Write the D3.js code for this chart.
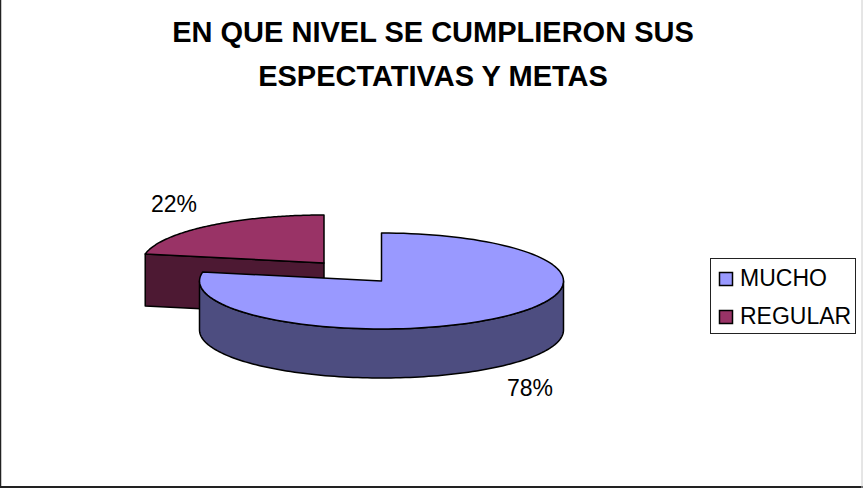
<!DOCTYPE html>
<html><head><meta charset="utf-8">
<script src="https://cdn.jsdelivr.net/npm/d3@7/dist/d3.min.js"></script>
<style>html,body{margin:0;padding:0;background:#fff}svg{display:block}text{font-family:"Liberation Sans",Arial,sans-serif;fill:#000}</style>
</head><body><div id="c"></div>
<script>
const titleLines = ["EN QUE NIVEL SE CUMPLIERON SUS", "ESPECTATIVAS Y METAS"];
const categories = ["MUCHO", "REGULAR"];
const values = [78, 22];
const topColors = ["#9999FF", "#993366"];
const sideColors = ["#4D4D80", "#4D1933"];

const W = 863, H = 488;
const svg = d3.select("#c").append("svg").attr("width", W).attr("height", H);
svg.append("line").attr("x1", 0.5).attr("x2", 0.5).attr("y1", 0).attr("y2", H).attr("stroke", "#222").attr("stroke-width", 1.5);
svg.append("line").attr("x1", 0).attr("x2", W).attr("y1", 487).attr("y2", 487).attr("stroke", "#222").attr("stroke-width", 2);
svg.append("line").attr("x1", 862).attr("x2", 862).attr("y1", 0).attr("y2", H).attr("stroke", "#ccc").attr("stroke-width", 1);

svg.selectAll("text.title").data(titleLines).join("text").attr("class", "title")
  .attr("x", 433).attr("y", (d, i) => 42 + i * 44)
  .attr("text-anchor", "middle").attr("font-size", 29).attr("font-weight", "bold").text(d => d);

const arcs = d3.pie().sort(null)(values);
const rx = 182, ry = 48;
const depths = [49, 52];
const centers = [[381.5, 281], [324, 263]];
const ex = (c, a) => c[0] + rx * Math.sin(a), ey = (c, a) => c[1] - ry * Math.cos(a);
const line = d3.line();
function rim(c, a0, a1, dy) {
  const n = 120;
  return d3.range(n + 1).map(i => { const a = a0 + (a1 - a0) * i / n; return [ex(c, a), ey(c, a) + dy]; });
}
function draw(sel, d) { return sel.attr("d", d).attr("stroke", "#000").attr("stroke-width", 1.5).attr("stroke-linejoin", "round"); }

// REGULAR wedge first: it sits behind
(function () {
  const a = arcs[1], c = centers[1], depth = depths[1];
  const p0 = [ex(c, a.startAngle), ey(c, a.startAngle)];
  draw(svg.append("path"), line([p0, c, [c[0], c[1] + depth], [p0[0], p0[1] + depth]]) + "Z").attr("fill", sideColors[1]);
  draw(svg.append("path"), line([c, ...rim(c, a.startAngle, a.endAngle, 0)]) + "Z").attr("fill", topColors[1]);
})();
// MUCHO wedge
(function () {
  const a = arcs[0], c = centers[0], depth = depths[0];
  const pi = Math.PI;
  const wall = [...rim(c, pi / 2, 3 * pi / 2, 0), ...rim(c, pi / 2, 3 * pi / 2, depth).reverse()];
  draw(svg.append("path"), line(wall) + "Z").attr("fill", sideColors[0]);
  draw(svg.append("path"), line([c, ...rim(c, a.startAngle, a.endAngle, 0)]) + "Z").attr("fill", topColors[0]);
})();

// percent labels
const pctPos = [[530, 396], [174, 212]];
svg.selectAll("text.pct").data(arcs).join("text").attr("class", "pct")
  .attr("x", (d, i) => pctPos[i][0]).attr("y", (d, i) => pctPos[i][1])
  .attr("text-anchor", "middle").attr("font-size", 23).text(d => d.data + "%");

// legend
svg.append("rect").attr("x", 710.5).attr("y", 258.5).attr("width", 145).attr("height", 75)
  .attr("fill", "#fff").attr("stroke", "#222").attr("stroke-width", 1);
const y = d3.scalePoint().domain(categories).range([277, 315]);
const items = svg.selectAll("g.leg").data(categories).join("g").attr("class", "leg")
  .attr("transform", d => `translate(0,${y(d)})`);
items.append("rect").attr("x", 719.5).attr("y", -4.5).attr("width", 13).attr("height", 13)
  .attr("fill", (d, i) => topColors[i]).attr("stroke", "#000").attr("stroke-width", 1.5);
items.append("text").attr("x", 740).attr("y", 8.5).attr("font-size", 23).text(d => d);
</script></body></html>
